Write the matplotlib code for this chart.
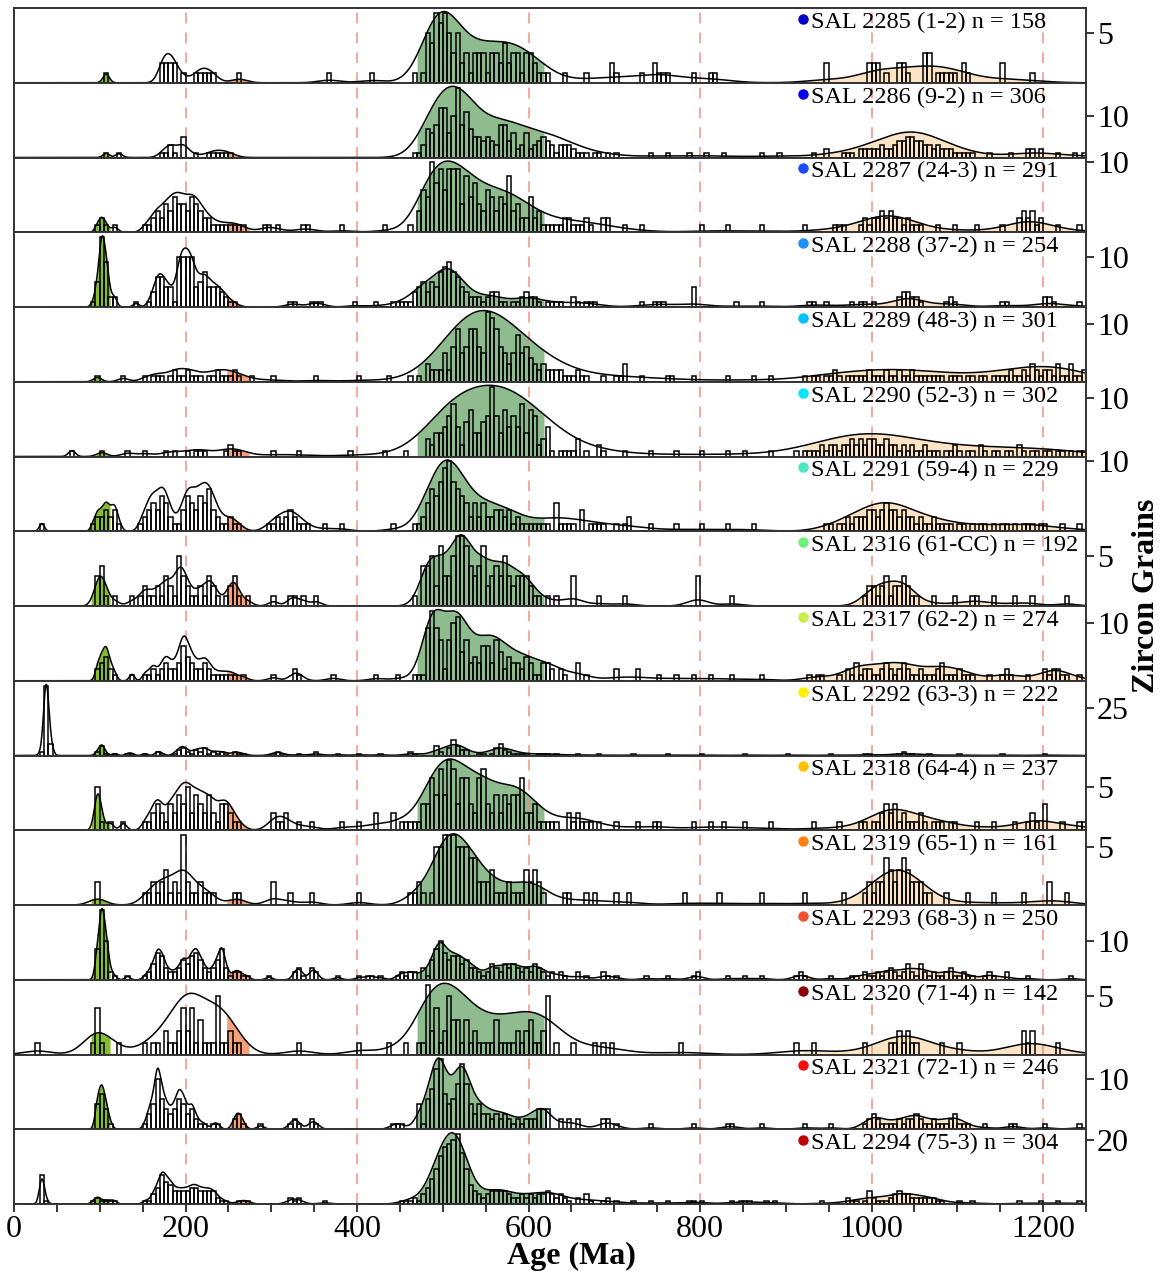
import numpy as np
import matplotlib.pyplot as plt

plt.rcParams['font.family'] = ['Liberation Serif', 'DejaVu Serif']

BIN = 5
AGE_MAX = 1250

labels = [
    "SAL 2285 (1-2) n = 158", "SAL 2286 (9-2) n = 306", "SAL 2287 (24-3) n = 291",
    "SAL 2288 (37-2) n = 254", "SAL 2289 (48-3) n = 301", "SAL 2290 (52-3) n = 302",
    "SAL 2291 (59-4) n = 229", "SAL 2316 (61-CC) n = 192", "SAL 2317 (62-2) n = 274",
    "SAL 2292 (63-3) n = 222", "SAL 2318 (64-4) n = 237", "SAL 2319 (65-1) n = 161",
    "SAL 2293 (68-3) n = 250", "SAL 2320 (71-4) n = 142", "SAL 2321 (72-1) n = 246",
    "SAL 2294 (75-3) n = 304",
]
dot_colors = [
    "#0000c8", "#0000ee", "#1a4cff", "#1e8fff", "#00c0ff", "#00e8ff", "#48e8c0", "#70f07a",
    "#c8f048", "#fff200", "#ffc000", "#ff8010", "#f05030", "#8b0000", "#ff0a0a", "#c00000",
]
count_ticks = [5, 10, 10, 10, 10, 10, 10, 5, 10, 25, 5, 5, 10, 5, 10, 20]
# kernel width: fraction of age, and a floor in Ma, per sample
kde_k = [0.035, 0.035, 0.035, 0.025, 0.05, 0.06, 0.03, 0.018,
         0.022, 0.02, 0.03, 0.03, 0.012, 0.04, 0.015, 0.02]
kde_min = [3, 3, 3, 3, 3, 3, 3, 6, 3, 3, 4, 10, 3, 16, 3, 3]

age_groups = [(90, 112, "#86bd2f"), (248, 274, "#f5a078"),
              (470, 618, "#8fbc8f"), (920, 1250, "#fce4c4")]
ref_ages = [200, 400, 600, 800, 1000, 1200]

# grain counts in 5 Ma bins, as runs: (first bin, [counts...])
sal_2285 = [
    (105, [1]), (170, [2, 2, 2, 2, 0, 1, 0, 0, 1, 1, 1, 1, 1]),
    (260, [1]), (365, [1]), (415, [1]),
    (465, [1, 0, 1, 5, 4, 7, 6, 7, 5, 3, 5, 2, 3, 1, 3, 3, 3, 1, 3, 3, 2, 4, 2, 3, 3, 1, 3, 3, 2, 1, 1, 1]),
    (640, [1]), (665, [1]), (695, [2, 1]), (730, [1]), (745, [2, 1, 1, 1]), (790, [1]), (810, [1, 1]),
    (945, [2]), (995, [2, 2, 2, 0, 1]), (1030, [2, 2, 1]), (1060, [3, 3, 0, 1, 1, 1, 1, 1]),
    (1105, [2, 1]), (1150, [2]), (1185, [1]),
]
sal_2286 = [
    (105, [1]), (120, [1]), (170, [1, 1, 3, 1, 0, 5, 0, 0, 1, 0, 0, 1, 1, 1, 1, 1, 1]),
    (465, [1, 1, 3, 7, 6, 8, 12, 12, 6, 10, 17, 8, 11, 7, 5, 5, 4, 5, 4, 3, 8, 8, 4, 6, 2, 3,
           6, 2, 3, 4, 5, 4, 3, 1, 3, 3, 3, 2, 1, 1, 1, 0, 1, 1, 0, 1, 0, 1]),
    (740, [1]), (760, [1]), (785, [1]), (805, [1]), (825, [1]), (870, [1]), (890, [1]),
    (930, [1]), (945, [2]),
    (965, [1, 1, 1, 0, 2, 2, 2, 2, 2, 3, 2, 2, 3, 4, 4, 5, 5, 4, 4, 3, 3, 2, 3, 2, 2, 2, 1, 1, 1, 1, 1]),
    (1135, [1]), (1160, [1]), (1180, [2, 2]), (1195, [2]), (1215, [1]), (1235, [1]), (1245, [1]),
]
sal_2287 = [
    (95, [1, 2, 1]), (115, [1]),
    (150, [1, 1, 2, 3, 2, 4, 3, 5, 4, 4, 3, 5, 4, 3, 2, 2, 1, 1, 1, 1, 1, 1, 1, 1]),
    (290, [1, 1]), (305, [1]), (335, [1, 1]), (380, [1]), (430, [1]),
    (460, [1, 0, 3, 6, 5, 10, 7, 9, 6, 9, 9, 9, 4, 8, 5, 7, 4, 3, 6, 5, 3, 5, 4, 8, 3, 4, 2, 2,
           5, 2, 3, 1, 1, 1, 1, 1, 2, 2, 1, 1, 1, 2, 1, 0, 0, 2, 2, 0, 0, 0, 1, 0, 0, 0, 1]),
    (800, [1]), (830, [1]), (870, [1]), (920, [1]), (955, [1, 1, 1]),
    (985, [1, 2, 1, 2, 2, 3, 2, 3, 2, 2, 1, 2, 1, 1, 1]),
    (1075, [1]), (1095, [1]), (1120, [1]), (1150, [1]),
    (1170, [2, 3, 2, 3, 1, 2]), (1215, [1]), (1240, [1]),
]
sal_2288 = [
    (90, [1, 5, 14, 9, 2, 2]), (140, [1]),
    (155, [1, 3, 6, 6, 4, 4, 1, 10, 10, 10, 10, 4, 5, 7, 4, 4, 4, 3, 2, 1, 1]),
    (320, [1, 1]), (345, [1, 1, 1]), (395, [1]), (420, [1]),
    (440, [1, 1, 1, 1, 1, 3, 4, 5, 3, 5, 4, 7, 8, 9, 7, 6, 4, 3, 2, 2, 2, 1, 2, 3, 3, 1, 1, 0,
           1, 1, 2, 3, 2, 2, 1, 0, 1, 1, 1, 1, 0, 0, 2, 1, 0, 1, 1, 1]),
    (730, [1]), (745, [1, 1, 1]), (790, [4]), (840, [1]), (870, [1]),
    (925, [1, 1, 0, 0, 1]), (975, [1, 0, 1, 1, 0, 1]), (1030, [2, 3, 3, 2, 2, 1]),
    (1085, [1, 2, 1]), (1150, [1, 1]), (1200, [2, 2, 1]), (1240, [1]),
]
sal_2289 = [
    (95, [1]), (125, [1]),
    (150, [1, 0, 1, 1, 1, 0, 1, 2, 1, 1, 2, 1, 1, 1, 0, 1, 1, 2, 1, 1]),
    (250, [1, 2, 1]), (275, [1]), (300, [1]), (350, [1]), (400, [1]), (435, [1]),
    (460, [1, 0, 1, 0, 3, 2, 2, 2, 5, 2, 6, 9, 5, 6, 9, 9, 6, 5, 12, 11, 9, 6, 5, 3, 5, 8, 5,
           6, 4, 3, 2, 3, 2, 2, 2, 2, 1, 1, 1, 2, 1, 1, 0, 0, 0, 1, 0, 0, 1, 1, 3]),
    (730, [1]), (760, [1, 1]), (790, [1]), (830, [1]), (860, [1]), (880, [1]),
    (920, [1, 0, 1, 1, 0, 1, 1, 2, 1, 0, 1, 1, 1, 1, 1, 2, 1, 1, 1, 2, 1, 1, 2, 1, 1, 2, 1, 1,
           1, 1, 1, 1, 1, 0, 1, 1, 1, 0, 1, 1, 0, 1, 1, 0, 1, 1, 1, 1, 2, 1, 1, 2, 1, 3, 2, 1,
           2, 2, 1, 3, 1, 1, 3, 1, 1, 2]),
]
sal_2290 = [
    (65, [1]), (100, [1]), (130, [1]), (150, [1]), (175, [1]), (185, [1]), (200, [1, 0, 1, 1, 1]),
    (245, [1, 2, 1, 1]), (300, [1]), (330, [1]), (390, [1]), (430, [1]),
    (455, [1, 0, 0, 0, 0, 3, 2, 4, 4, 5, 7, 9, 5, 2, 6, 8, 4, 4, 6, 7, 12, 7, 4, 8, 5, 7, 5,
           9, 4, 8, 7, 2, 3, 5, 1, 0, 1, 1, 1, 1, 3, 0, 1, 0, 0, 2, 1, 0, 0, 0, 0, 1]),
    (740, [1]), (770, [1]), (800, [1]), (830, [1]), (850, [1]), (880, [1]),
    (910, [1, 0, 1, 1, 1, 1, 2, 1, 2, 2, 1, 2, 2, 3, 2, 3, 2, 3, 3, 2, 2, 3, 2, 2, 1, 2, 1, 2,
           1, 1, 2, 1, 1, 1, 0, 1, 1, 2, 1, 0, 1, 1, 0, 2, 1, 0, 1, 1, 0, 1, 1, 0, 2, 1, 0, 1,
           1, 0, 1, 1, 0, 1, 1, 0, 1, 0, 1, 1]),
]
sal_2291 = [
    (30, [1]), (90, [1, 2, 2, 3, 2, 3, 1]),
    (145, [1, 2, 3, 4, 3, 5, 4, 2, 1, 1, 3, 5, 4, 3, 5, 4, 6, 3, 2, 1, 1]),
    (250, [2, 1, 1]), (295, [1, 1, 2, 1, 2, 3, 2, 1, 1, 1]), (360, [1]), (380, [1]), (440, [1]),
    (465, [1, 1, 2, 4, 6, 5, 7, 9, 10, 7, 6, 5, 4, 2, 4, 2, 4, 2, 2, 3, 3, 2, 3, 1, 2, 1, 1,
           1, 1, 1, 1, 1, 0, 4, 1, 1, 1, 1, 0, 3, 0, 1, 1, 1, 1, 0, 0, 1, 0, 1, 2]),
    (740, [1]), (770, [1]), (800, [1]), (830, [1]), (860, [1]),
    (945, [1, 1, 0, 1, 1, 2, 1, 2, 2, 2, 3, 3, 2, 3, 4, 3, 3, 2, 3, 2, 2, 1, 2, 1, 1, 2, 1, 1,
           1, 1, 0, 1, 1, 0, 1, 0, 1, 1, 0, 1, 0, 1, 1, 0, 1, 0, 1, 1, 1, 0, 1, 1]),
    (1220, [1]), (1240, [1]),
]
sal_2316 = [
    (95, [3, 4, 1]), (115, [1]),
    (135, [1, 0, 1, 2, 1, 1, 2, 1, 3, 2, 1, 5, 3, 2, 1, 1, 2, 1, 3, 2, 1, 0, 1, 2, 3, 1, 0, 1]),
    (300, [1]), (320, [1, 1, 0, 1]), (350, [1]),
    (465, [1, 0, 4, 4, 5, 2, 6, 3, 3, 5, 7, 7, 6, 4, 3, 4, 6, 2, 3, 4, 3, 5, 3, 2, 3, 3, 3, 2,
           1, 1, 0, 1, 0, 1]),
    (650, [3]), (680, [1]), (710, [1]), (795, [3]), (835, [1]),
    (990, [1, 2, 2, 1, 2, 3, 1, 2, 2, 3, 2, 1, 1]),
    (1070, [1]), (1095, [1]), (1115, [1, 1]), (1140, [1]), (1165, [1]), (1185, [1]), (1225, [1]),
]
sal_2317 = [
    (95, [2, 3, 4, 2, 1]), (135, [1]),
    (150, [1, 1, 2, 1, 2, 3, 2, 2, 3, 6, 4, 3, 2, 2, 3, 2, 1, 1, 1, 1, 1, 1]),
    (265, [1]), (300, [1]), (325, [2, 1]), (370, [1]), (420, [1]), (445, [1]),
    (465, [1, 1, 1, 9, 12, 9, 7, 2, 7, 10, 11, 5, 7, 3, 4, 3, 6, 6, 3, 7, 5, 2, 4, 3, 3, 2, 4,
           3, 1, 1, 3, 3, 2, 0, 2, 1, 0, 0, 3, 0, 1, 0, 0, 0, 0, 0, 0, 2, 0, 0, 0, 0, 2]),
    (750, [1]), (770, [1]), (790, [1]), (810, [1]), (835, [1]), (870, [1]),
    (925, [1, 0, 1, 1]),
    (960, [1, 0, 2, 1, 3, 1, 2, 2, 1, 1, 2, 3, 2, 1, 2, 3, 2, 1, 1, 2, 1, 1, 1, 2, 3, 1, 1, 1,
           2, 1, 1, 1]),
    (1135, [1]), (1150, [1, 2, 1]), (1180, [1]), (1200, [2, 1, 2, 2, 1, 1]), (1240, [1]),
]
sal_2292 = [
    (30, [2, 37, 6]),
    (95, [2, 5, 1]), (115, [1]), (130, [1, 1]), (150, [1]), (165, [2, 1]),
    (185, [1, 3, 4, 2, 1, 3, 2, 4, 1, 2, 1, 2, 1]),
    (255, [2, 1, 1]), (300, [1, 2, 1]), (330, [1]), (350, [2]), (375, [1]), (400, [1]), (425, [1]),
    (460, [2, 1, 0, 0, 0, 0, 5, 2, 0, 4, 8, 5, 3, 3, 0, 0, 1, 1, 0, 1, 4, 6, 3, 2, 1, 1, 1, 1,
           0, 0, 1, 1, 1]),
    (630, [1]), (655, [1]), (680, [1]), (720, [1]), (760, [1]), (800, [1]), (850, [1]),
    (900, [1]), (950, [1]), (990, [1, 1]), (1030, [1, 2, 1, 1]), (1065, [1]), (1100, [1]),
    (1150, [1]), (1200, [1]),
]
sal_2318 = [
    (95, [5, 1]), (110, [1]), (125, [1]),
    (150, [1, 1, 2, 3, 2, 1, 3, 2, 4, 3, 5, 2, 4, 3, 2, 4, 2, 1, 3, 3, 2, 1]),
    (260, [1]), (300, [2, 1, 1, 2]), (330, [1]), (345, [1]), (380, [1]), (400, [1]), (420, [2]),
    (440, [2, 0, 1, 1, 1, 1, 1, 3, 3, 6, 4, 7, 4, 8, 7, 3, 6, 6, 3, 2, 6, 7, 3, 2, 4, 2, 4, 3,
           4, 4, 6, 2, 2, 3, 1, 1, 1, 1, 1, 0, 0, 2, 1, 2, 1, 1, 1, 0, 1, 0, 0, 0, 1]),
    (725, [1]), (745, [1, 1]), (790, [1]), (810, [1]), (825, [1]), (850, [1]), (880, [1]),
    (930, [1]), (960, [1]),
    (985, [1, 1, 0, 1, 1, 2, 3, 2, 3, 1, 2, 1, 1, 1, 2, 1, 0, 1, 1, 1, 0, 1, 1]),
    (1120, [1]), (1140, [1]), (1165, [1]), (1180, [1, 2, 1]), (1200, [3]), (1220, [1]),
    (1240, [1, 1]),
]
sal_2319 = [
    (95, [2]), (150, [1, 1, 2, 1, 2, 3, 1, 2, 1]), (195, [6]), (200, [2, 1, 1, 2, 1, 1, 1]),
    (255, [1, 1]), (300, [2]), (320, [1]), (345, [1]), (400, [1]),
    (460, [1, 1, 2, 1, 0, 1, 5, 5, 6, 6, 6, 5, 5, 5, 4, 4, 2, 2, 2, 3, 1, 1, 1, 2, 1, 1, 1, 3,
           2, 3, 2, 1]),
    (640, [1, 1]), (665, [1]), (675, [1]), (700, [1]), (715, [1]), (780, [1]), (820, [1]),
    (870, [1]), (920, [1]), (965, [1]),
    (990, [1, 2, 1, 2, 2, 4, 3, 2, 3, 4, 3, 2, 2, 2, 1, 1]),
    (1085, [1]), (1110, [1]), (1140, [1]), (1175, [1]), (1205, [2]), (1225, [1]),
]
sal_2293 = [
    (95, [8, 18, 10, 2]), (115, [1]), (130, [1]),
    (150, [1, 2, 4, 7, 6, 3, 2, 2, 3, 5, 4, 6, 7, 5, 3, 2, 3, 5, 8, 3, 1, 2, 2, 1, 1]),
    (295, [1]), (325, [2, 3, 1]), (345, [3, 2]), (375, [1]), (400, [1]), (410, [1, 1]), (425, [1]),
    (445, [1, 2, 1, 2, 2, 0, 3, 1, 5, 8, 10, 7, 5, 6, 6, 4, 5, 3, 3, 2, 1, 2, 4, 3, 2, 4, 3, 4,
           3, 2, 3, 2, 4, 3, 2, 1, 2, 0, 2, 1, 0, 0, 2, 0, 1, 0, 0, 0, 2, 1, 0, 1]),
    (735, [1]), (760, [1]), (790, [1, 2]), (830, [1]), (850, [1]), (870, [1]), (910, [1, 2, 1]),
    (950, [1]),
    (975, [1, 1, 0, 2, 1, 1, 2, 1, 2, 3, 2, 1, 2, 4, 2, 1, 4, 2, 1, 2, 1, 1, 2, 3, 1, 1, 2, 1, 1]),
    (1130, [1, 2, 1]), (1155, [2]), (1180, [1]), (1230, [1]),
]
sal_2320 = [
    (25, [1]), (90, [1, 4, 1]), (120, [1]),
    (150, [1, 0, 1, 1, 0, 2, 1, 1, 2, 4, 2, 4, 1, 3, 1, 1, 1, 5, 1, 1, 2, 1, 1, 0]),
    (330, [1]), (400, [1]),
    (435, [1, 0, 0, 0, 1, 0, 0, 1, 1, 6, 2, 4, 1, 2, 5, 3, 3, 1, 3, 1, 2, 1, 1, 1, 1, 3, 1, 1,
           1, 1, 2, 1, 2, 3, 1, 1, 2, 5, 0, 1, 0, 0, 0, 1, 0, 0, 0, 0, 1, 0, 1, 0, 1]),
    (775, [1]), (910, [1]), (930, [1]), (990, [1]),
    (1020, [1, 1, 2, 1, 2, 1, 1]), (1080, [1]), (1100, [1]), (1175, [2, 1, 2]), (1215, [1]),
]
sal_2321 = [
    (95, [5, 7, 4, 1]),
    (150, [1, 3, 5, 10, 6, 4, 3, 4, 6, 5, 3, 4, 2, 1, 1]),
    (230, [1, 1]), (255, [2, 3, 1]), (285, [1]), (320, [1, 2, 1]), (345, [2, 1]),
    (440, [1, 1, 1, 0, 0, 0, 5, 1, 6, 8, 12, 14, 7, 5, 6, 9, 13, 9, 5, 3, 5, 3, 3, 2, 3, 2, 3,
           2, 1, 2, 1, 2, 2, 2, 4, 4, 4, 0, 0, 2, 0, 2, 0, 2, 0, 0, 0, 0, 0, 2, 2, 0, 1]),
    (740, [1]), (790, [1]), (830, [1, 1]), (870, [1]), (920, [1]), (950, [1]),
    (990, [1, 2, 3, 2, 1, 1, 1, 1, 2, 1, 2, 2, 3, 2, 1, 1, 2, 1, 1, 1, 2, 3, 1, 1, 1]),
    (1130, [1]), (1160, [1, 1]), (1200, [1]), (1240, [1]),
]
sal_2294 = [
    (30, [9, 1]), (90, [1, 2, 1, 1, 1, 1]),
    (150, [1, 1, 3, 5, 9, 7, 6, 4, 4, 4, 4, 5, 5, 4, 4, 4, 4, 2, 1, 1]),
    (260, [1, 1, 1]), (320, [2, 1, 2]), (360, [1]),
    (450, [1, 1, 1, 2, 1, 3, 5, 8, 11, 15, 18, 19, 20, 22, 16, 11, 6, 4, 3, 2, 3, 4, 4, 4, 4, 3,
           2, 2, 3, 2, 3, 2, 3, 3, 4, 3, 2, 3, 2, 1, 0, 2, 0, 3, 1, 0, 0, 1, 2, 0, 1, 0, 0, 0, 1]),
    (740, [1]), (760, [1]), (785, [1, 1]), (800, [1]), (835, [1]), (845, [1, 1, 1]),
    (875, [1]), (885, [1]), (940, [1]), (970, [2, 1, 1]),
    (990, [1, 4, 2, 1, 1, 1, 2, 3, 4, 3, 3, 2, 2, 2, 2, 2, 2, 1, 1]),
    (1100, [1]), (1115, [1]), (1170, [1]), (1195, [1]), (1215, [1]), (1240, [1]),
]

samples = [sal_2285, sal_2286, sal_2287, sal_2288, sal_2289, sal_2290, sal_2291, sal_2316,
           sal_2317, sal_2292, sal_2318, sal_2319, sal_2293, sal_2320, sal_2321, sal_2294]


def bin_counts(runs):
    counts = np.zeros(AGE_MAX // BIN)
    for start, vals in runs:
        i = start // BIN
        counts[i:i + len(vals)] += vals
    return counts


edges = np.arange(0, AGE_MAX + BIN, BIN)
centers = edges[:-1] + BIN / 2
grid = np.linspace(0, AGE_MAX, 2501)

fig = plt.figure(figsize=(11.62, 12.71), dpi=100)
left = 14 / 1162
width = 1072 / 1162
top = 1 - 8 / 1271
bottom = 1 - 1204 / 1271
h = (top - bottom) / len(samples)

for i, runs in enumerate(samples):
    counts = bin_counts(runs)
    ages = np.repeat(centers, counts.astype(int))
    sig = np.maximum(kde_k[i] * np.clip(ages, 0, 700), kde_min[i])
    dens = np.sum(np.exp(-0.5 * ((grid[:, None] - ages[None, :]) / sig) ** 2) / sig, axis=1)

    ax = fig.add_axes([left, top - (i + 1) * h, width, h])
    for lo, hi, c in age_groups:
        m = (grid >= lo) & (grid <= hi)
        ax.fill_between(grid[m], 0, dens[m], color=c, lw=0)
    for a in ref_ages:
        ax.axvline(a, color="#f28c82", ls=(0, (6, 5)), lw=1.3, alpha=0.8)
    ax.plot(grid, dens, color="black", lw=1.1)
    ax.set_xlim(0, AGE_MAX)
    ax.set_ylim(0, dens.max() * 1.05)
    ax.set_yticks([])

    ax2 = ax.twinx()
    nz = counts > 0
    ax2.bar(edges[:-1][nz], counts[nz], width=BIN, align="edge", fill=False,
            edgecolor="black", lw=1.1)
    ax2.set_xlim(0, AGE_MAX)
    ax2.set_ylim(0, counts.max() * 1.07)
    ax2.set_yticks([count_ticks[i]])
    ax2.tick_params(axis="y", direction="out", length=6, width=1.1, labelsize=23, pad=2)

    for a_ in (ax, ax2):
        for s in a_.spines.values():
            s.set_color("#333333")
            s.set_linewidth(1.2)

    ax2.plot([0.736], [0.855], "o", ms=6.5, color=dot_colors[i],
             transform=ax2.transAxes, clip_on=False)
    ax2.text(0.7435, 0.735, labels[i], transform=ax2.transAxes, fontsize=17.5,
             ha="left", va="baseline")

    if i < len(samples) - 1:
        ax.set_xticks([])
    else:
        ticks = list(range(0, AGE_MAX + 1, 50))
        ax.set_xticks(ticks)
        ax.set_xticklabels([str(t) if t % 200 == 0 else "" for t in ticks])
        ax.tick_params(axis="x", direction="out", length=6, width=1.1, labelsize=23, pad=2)

fig.text(0.4914, 0.0115, "Age (Ma)", ha="center", va="center", fontsize=23, fontweight="bold")
fig.text(0.987, 0.531, "Zircon Grains", ha="center", va="center", rotation=90,
         fontsize=23, fontweight="bold")

fig.savefig("out.png", dpi=100)
